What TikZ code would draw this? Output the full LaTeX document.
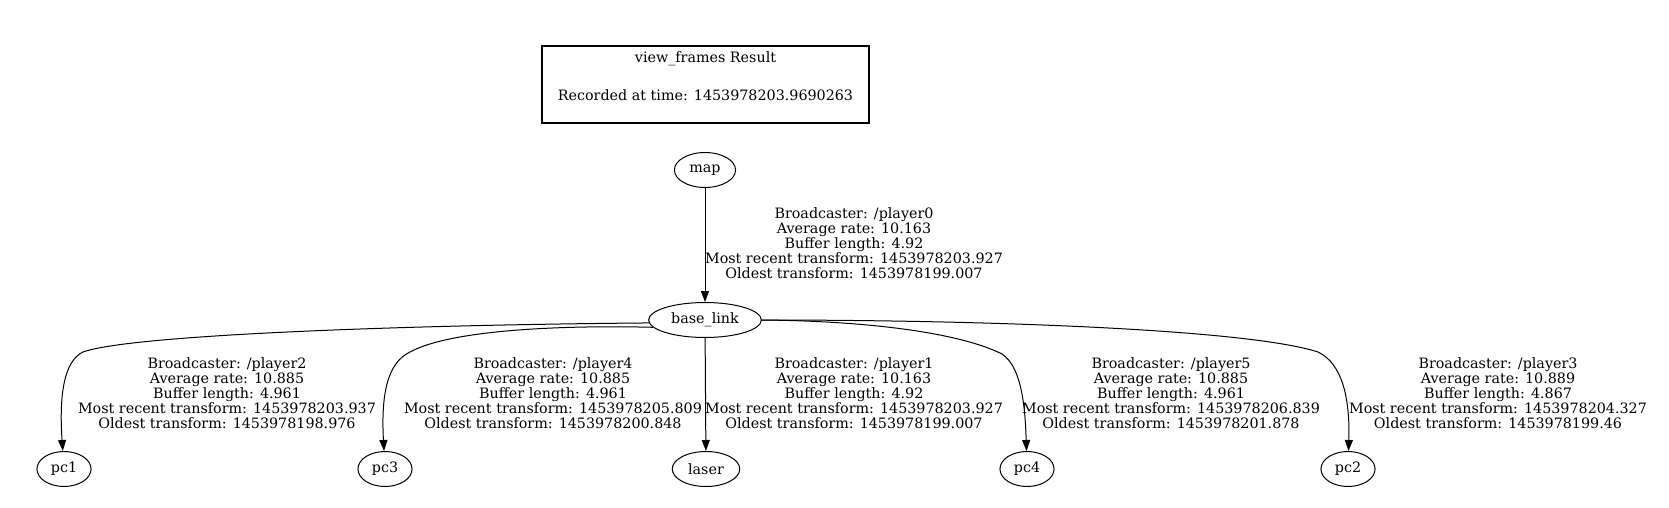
\documentclass[tikz,border=0pt]{standalone}
\usepackage{fontspec}
\setmainfont{DejaVu Serif}
\usetikzlibrary{shapes.geometric, arrows.meta}

\begin{document}
\begin{tikzpicture}[x=1pt, y=-1pt, line width=1pt,
    frame/.style={ellipse, draw, minimum height=35pt, inner xsep=6pt, inner ysep=0pt,
      font=\fontsize{14.3}{15}\selectfont},
    info/.style={align=center, inner sep=0pt, font=\fontsize{14.3}{15}\selectfont},
    link/.style={-{Triangle[length=11pt, width=8pt]}}]
  \useasboundingbox (0,0) rectangle (1669,508);
  % title box
  \draw[line width=1.8pt] (541.7,46) rectangle (869,122.7);
  \node[info] (title) at (705.5,76) {view\_frames Result\\[23pt]Recorded at time: 1453978203.9690263};
  % frames
  \node[frame] (map)       at (705,170) {map};
  \node[frame] (base_link) at (705,320) {base\_link};
  \node[frame] (pc1)   at (64,469)   {pc1};
  \node[frame] (pc3)   at (385,469)  {pc3};
  \node[frame] (laser) at (706,469)  {laser};
  \node[frame] (pc4)   at (1027,469) {pc4};
  \node[frame] (pc2)   at (1348,469) {pc2};
  % transforms
  \node[info] (t_map) at (854,243) {Broadcaster: /player0\\Average rate: 10.163\\Buffer length: 4.92\\Most recent transform: 1453978203.927\\Oldest transform: 1453978199.007};
  \node[info] (t_pc1) at (227,393) {Broadcaster: /player2\\Average rate: 10.885\\Buffer length: 4.961\\Most recent transform: 1453978203.937\\Oldest transform: 1453978198.976};
  \node[info] (t_pc3) at (553,393) {Broadcaster: /player4\\Average rate: 10.885\\Buffer length: 4.961\\Most recent transform: 1453978205.809\\Oldest transform: 1453978200.848};
  \node[info] (t_laser) at (854,393) {Broadcaster: /player1\\Average rate: 10.163\\Buffer length: 4.92\\Most recent transform: 1453978203.927\\Oldest transform: 1453978199.007};
  \node[info] (t_pc4) at (1171,393) {Broadcaster: /player5\\Average rate: 10.885\\Buffer length: 4.961\\Most recent transform: 1453978206.839\\Oldest transform: 1453978201.878};
  \node[info] (t_pc2) at (1498,393) {Broadcaster: /player3\\Average rate: 10.889\\Buffer length: 4.867\\Most recent transform: 1453978204.327\\Oldest transform: 1453978199.46};
  % edges
  \draw[link] (map) -- (base_link);
  \draw[link] (base_link) -- (laser);
  \draw[link] (base_link.183) .. controls (400,325) and (130,335) .. (83,352)
    .. controls (64,361) and (59,395) .. (pc1);
  \draw[link] (base_link.188) .. controls (560,325) and (450,330) .. (410,352)
    .. controls (387,363) and (381,395) .. (pc3);
  \draw[link] (base_link.east) .. controls (870,321) and (960,333) .. (1002,354)
    .. controls (1020,366) and (1025,400) .. (pc4);
  \draw[link] (base_link.east) .. controls (1000,320) and (1250,330) .. (1318,352)
    .. controls (1343,364) and (1350,400) .. (pc2);
\end{tikzpicture}
\end{document}
